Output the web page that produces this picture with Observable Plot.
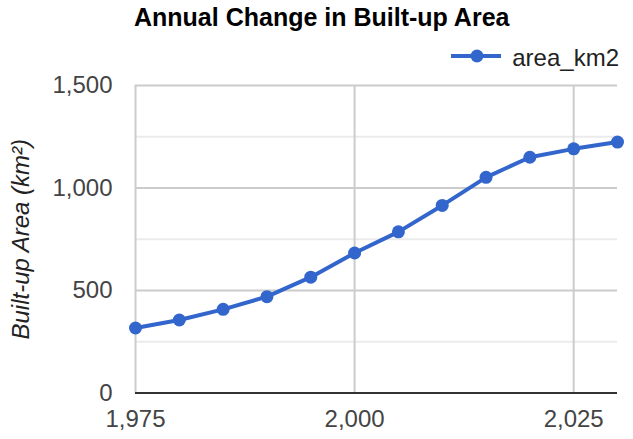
<!DOCTYPE html>
<html>
<head>
<meta charset="utf-8">
<script src="https://cdn.jsdelivr.net/npm/d3@7"></script>
<script src="https://cdn.jsdelivr.net/npm/@observablehq/plot@0.6"></script>
<style>
  body { margin: 0; background: #fff; font-family: Arial, "Liberation Sans", sans-serif; }
  #wrap { width: 633px; height: 439px; overflow: hidden; }
  #title { height: 44px; line-height: 34px; padding-left: 134px; font-weight: bold; font-size: 25px; color: #000; white-space: nowrap; }
  #legend { height: 28px; display: flex; justify-content: flex-end; align-items: flex-start; padding-right: 14px; font-size: 24px; line-height: 28px; color: #222; }
  #legend svg { margin-right: 11px; }
</style>
</head>
<body>
<div id="wrap">
  <div id="title"></div>
  <div id="legend"></div>
  <div id="chart"></div>
</div>
<script>
const titleText = "Annual Change in Built-up Area";
const seriesName = "area_km2";
const yLabel = "Built-up Area (km²)";
const years = [1975, 1980, 1985, 1990, 1995, 2000, 2005, 2010, 2015, 2020, 2025, 2030];
const area = [317, 356, 408, 470, 565, 683, 786, 915, 1052, 1150, 1191, 1224];
const xTicks = [1975, 2000, 2025];
const yTicks = [0, 500, 1000, 1500];
const yMinorTicks = [250, 750, 1250];
const lineColor = "#3366cc";

document.getElementById("title").textContent = titleText;
const legend = document.getElementById("legend");
legend.innerHTML = `<svg width="50" height="28"><line x1="0" x2="50" y1="12" y2="12" stroke="${lineColor}" stroke-width="4"/><circle cx="26" cy="12" r="6.5" fill="${lineColor}"/></svg><span>${seriesName}</span>`;

const data = years.map((year, i) => ({year, area: area[i]}));
const fmt = d3.format(",");

const chart = Plot.plot({
  width: 633,
  height: 367,
  marginLeft: 135,
  marginRight: 16,
  marginTop: 13,
  marginBottom: 46.5,
  style: {fontSize: "24px", fontFamily: "Arial, 'Liberation Sans', sans-serif", color: "#444", background: "#fff", overflow: "visible"},
  x: {domain: [1975, 2030]},
  y: {domain: [0, 1500]},
  marks: [
    Plot.ruleY(yMinorTicks, {stroke: "#ebebeb", strokeWidth: 2}),
    Plot.ruleY(yTicks, {stroke: "#cccccc", strokeWidth: 2}),
    Plot.ruleX(xTicks, {stroke: "#cccccc", strokeWidth: 2}),
    Plot.ruleY([0], {stroke: "#333333", strokeWidth: 2}),
    Plot.axisY({ticks: yTicks, tickSize: 0, tickPadding: 23, tickFormat: fmt, label: null}),
    Plot.axisX({ticks: xTicks, tickSize: 0, tickPadding: 17, tickFormat: fmt, label: null}),
    Plot.text([yLabel], {frameAnchor: "left", textAnchor: "middle", rotate: -90, dx: -114, fontStyle: "italic", fill: "#222", fontSize: 24}),
    Plot.line(data, {x: "year", y: "area", stroke: lineColor, strokeWidth: 4}),
    Plot.dot(data, {x: "year", y: "area", r: 6.5, fill: lineColor})
  ]
});
document.getElementById("chart").appendChild(chart);
</script>
</body>
</html>
